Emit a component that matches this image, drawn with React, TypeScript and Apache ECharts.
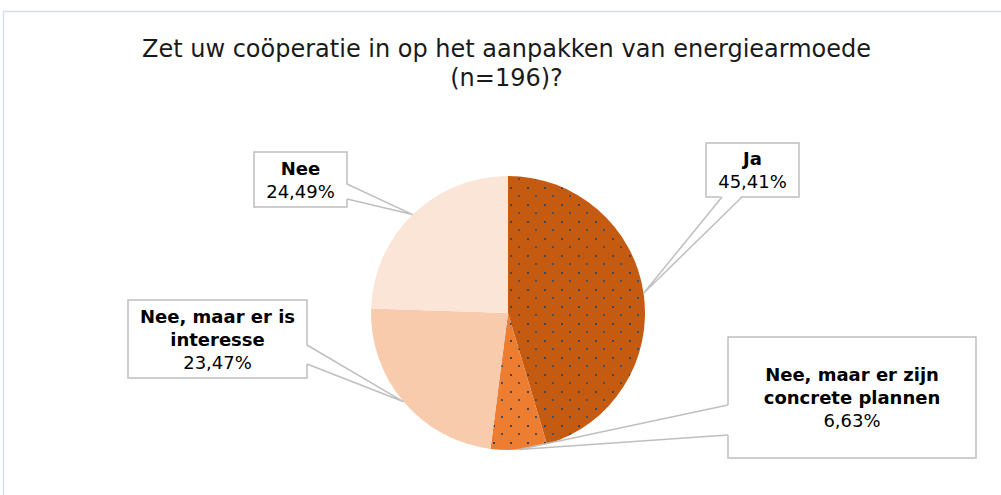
import React, { useEffect, useRef } from 'react';
import * as echarts from 'echarts';

const TITLE_LINES = ['Zet uw coöperatie in op het aanpakken van energiearmoede', '(n=196)?'];
const categories = ['Ja', 'Nee, maar er zijn concrete plannen', 'Nee, maar er is interesse', 'Nee'];
const labelTextLines = [['Ja'], ['Nee, maar er zijn', 'concrete plannen'], ['Nee, maar er is', 'interesse'], ['Nee']];
const values = [45.41, 6.63, 23.47, 24.49];
const colors = ['#c55a11', '#ed7d31', '#f8cbad', '#fbe5d6'];
const dotted = [true, true, false, false];

const FONT = 'DejaVu Sans, Verdana, sans-serif';
const CX = 508;
const CY = 313;
const R = 137;

// label boxes (layout only)
const boxes = [
  { x: 706, y: 143, w: 93, h: 54, side: 'bottom', b1: 722, b2: 742 },
  { x: 728, y: 337, w: 248, h: 121, side: 'left', b1: 405, b2: 435 },
  { x: 128, y: 300, w: 179, h: 78, side: 'right', b1: 345, b2: 364 },
  { x: 254, y: 152, w: 93, h: 55, side: 'right', b1: 184, b2: 199 },
];

function makePattern(base: string): string {
  const c = document.createElement('canvas');
  c.width = 17;
  c.height = 17;
  const ctx = c.getContext('2d')!;
  ctx.fillStyle = base;
  ctx.fillRect(0, 0, 17, 17);
  ctx.fillStyle = '#3e4656';
  ctx.fillRect(0, 0, 2, 2);
  ctx.fillStyle = '#4a5060';
  ctx.fillRect(8, 8, 2, 2);
  return c.toDataURL();
}

function fmt(v: number) {
  return v.toFixed(2).replace('.', ',') + '%';
}

export default function App() {
  const ref = useRef<HTMLDivElement>(null);
  useEffect(() => {
    if (!ref.current) return;
    const chart = echarts.init(ref.current, null, { renderer: 'svg' });
    const total = values.reduce((a, b) => a + b, 0);

    const data = categories.map((name, i) => ({
      name,
      value: values[i],
      itemStyle: {
        color: dotted[i] ? { image: makePattern(colors[i]), repeat: 'repeat' } : colors[i],
      },
    }));

    const graphics: any[] = [
      {
        type: 'rect',
        z: 0,
        shape: { x: 3.5, y: 11.5, width: 1010, height: 500 },
        style: { fill: 'none', stroke: '#d9dfe7', lineWidth: 1.5 },
        silent: true,
      },
    ];

    TITLE_LINES.forEach((t, k) => {
      graphics.push({
        type: 'text',
        z: 13,
        x: 506.5,
        y: 48.5 + k * 29,
        silent: true,
        style: {
          text: t,
          fill: '#1a1a1a',
          font: `24px ${FONT}`,
          align: 'center',
          verticalAlign: 'middle',
        },
      });
    });

    let cum = 0;
    values.forEach((v, i) => {
      const mid = (cum + v / 2) / total;
      cum += v;
      const ang = ((90 - 360 * mid) * Math.PI) / 180;
      const tx = CX + R * Math.cos(ang);
      const ty = CY - R * Math.sin(ang);
      const b = boxes[i];
      let p1: number[], p2: number[], q1: number[], q2: number[];
      if (b.side === 'bottom') {
        p1 = [b.b1, b.y + b.h];
        p2 = [b.b2, b.y + b.h];
        q1 = [b.b1, b.y + b.h - 1.5];
        q2 = [b.b2, b.y + b.h - 1.5];
      } else if (b.side === 'left') {
        p1 = [b.x, b.b1];
        p2 = [b.x, b.b2];
        q1 = [b.x + 1.5, b.b1];
        q2 = [b.x + 1.5, b.b2];
      } else {
        p1 = [b.x + b.w, b.b1];
        p2 = [b.x + b.w, b.b2];
        q1 = [b.x + b.w - 1.5, b.b1];
        q2 = [b.x + b.w - 1.5, b.b2];
      }
      graphics.push({
        type: 'rect',
        z: 10,
        shape: { x: b.x, y: b.y, width: b.w, height: b.h },
        style: { fill: '#ffffff', stroke: '#bfbfbf', lineWidth: 1.5 },
        silent: true,
      });
      graphics.push({
        type: 'polygon',
        z: 11,
        shape: { points: [q1, [tx, ty], q2] },
        style: { fill: '#ffffff', stroke: 'none' },
        silent: true,
      });
      graphics.push({
        type: 'polyline',
        z: 12,
        shape: { points: [p1, [tx, ty], p2] },
        style: { fill: 'none', stroke: '#bfbfbf', lineWidth: 1.5 },
        silent: true,
      });
      const lines = [...labelTextLines[i].map((t) => ({ t, bold: true })), { t: fmt(v), bold: false }];
      const lh = 23;
      const startY = b.y + b.h / 2 - (lines.length * lh) / 2 + lh / 2;
      lines.forEach((ln, k) => {
        graphics.push({
          type: 'text',
          z: 13,
          x: b.x + b.w / 2,
          y: startY + k * lh,
          silent: true,
          style: {
            text: ln.t,
            fill: '#000000',
            font: `${ln.bold ? 'bold ' : ''}18px ${FONT}`,
            align: 'center',
            verticalAlign: 'middle',
          },
        });
      });
    });

    chart.setOption({
      animation: false,
      backgroundColor: '#ffffff',
      series: [
        {
          type: 'pie',
          center: [CX, CY],
          radius: R,
          startAngle: 90,
          clockwise: true,
          label: { show: false },
          labelLine: { show: false },
          itemStyle: { borderWidth: 0 },
          emphasis: { disabled: true },
          data,
        },
      ],
      graphic: graphics,
    });
    return () => chart.dispose();
  }, []);
  return (
    <div
      ref={ref}
      style={{ position: 'absolute', left: 0, top: 0, width: 1001, height: 495 }}
    />
  );
}
